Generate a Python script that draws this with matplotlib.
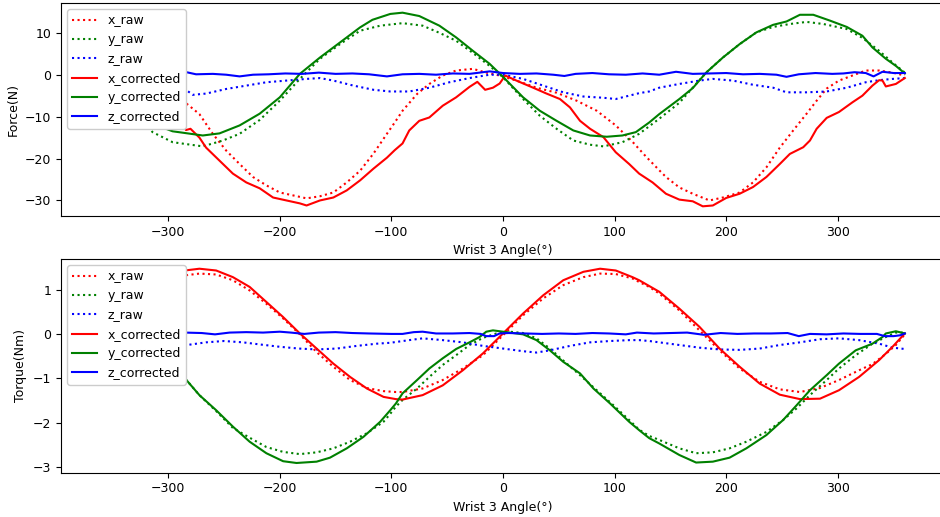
import matplotlib.pyplot as plt
import numpy as np

plt.rcParams['font.size'] = 9

# force (N) vs wrist 3 angle
fxr_a = [-360, -345, -330, -315, -300, -290, -283, -272, -260, -248, -236, -224, -212, -200, -188, -176, -164, -152, -140, -128, -116, -104, -97, -90, -77, -66, -54, -42, -27, -15, -3, 12, 30, 48, 66, 84, 101, 116, 128, 140, 146, 158, 170, 185, 197, 212, 224, 236, 248, 260, 272, 281, 290, 301, 313, 325, 337, 349, 360]
fxr_v = [-0.2, 0.5, 0.3, -1.5, -4.0, -5.8, -7.0, -9.4, -14.1, -18.1, -21.3, -24.4, -26.4, -28.1, -28.8, -29.5, -29.0, -28.1, -25.7, -22.9, -18.8, -14.1, -11.4, -8.6, -4.6, -2.2, -0.2, 1.0, 1.4, 0.5, -0.2, -1.4, -3.1, -4.3, -6.2, -8.6, -12.1, -16.0, -19.5, -22.8, -24.4, -26.9, -28.4, -30.0, -29.3, -28.1, -25.7, -22.1, -17.4, -13.3, -9.3, -6.2, -3.3, -1.4, -0.2, 1.0, 1.0, 0.5, -0.2]

fyr_a = [-360, -345, -330, -314, -296, -269, -251, -236, -218, -200, -182, -164, -146, -128, -110, -90, -72, -57, -42, -27, -12, 0, 18, 33, 48, 63, 78, 90, 107, 122, 140, 158, 182, 197, 212, 227, 242, 257, 272, 287, 308, 322, 337, 349, 360]
fyr_v = [0.5, -3.8, -8.0, -13.7, -16.1, -17.1, -15.7, -14.1, -10.8, -6.2, -1.0, 3.8, 7.3, 10.5, 11.7, 12.3, 11.7, 10.0, 8.1, 5.2, 2.1, -0.6, -5.8, -9.8, -12.9, -15.7, -16.7, -17.1, -16.1, -14.1, -10.5, -6.7, 0.5, 4.1, 7.3, 10.1, 11.4, 12.1, 12.6, 12.1, 10.9, 8.8, 5.7, 2.9, 0.5]

fzr_a = [-360, -340, -320, -300, -283, -278, -266, -248, -230, -212, -194, -176, -164, -152, -134, -116, -101, -84, -66, -48, -30, -12, 0, 18, 36, 54, 72, 90, 101, 113, 122, 131, 140, 158, 176, 188, 206, 224, 242, 254, 272, 290, 308, 325, 337, 349, 360]
fzr_v = [-0.5, -1.5, -2.6, -3.4, -3.8, -4.8, -4.5, -3.4, -2.6, -1.8, -1.4, -1.0, -0.8, -1.4, -2.6, -3.6, -4.0, -4.0, -3.1, -1.8, -0.8, 0.0, 0.0, -1.0, -2.6, -4.2, -5.2, -5.5, -5.8, -5.0, -4.4, -4.0, -3.1, -2.2, -1.4, -1.0, -1.4, -2.4, -3.1, -4.2, -4.2, -4.0, -3.1, -1.8, -1.3, -1.0, -0.8]

fxc_a = [-360, -345, -330, -315, -300, -289, -284, -280, -272, -266, -254, -242, -230, -218, -206, -194, -182, -176, -164, -152, -140, -128, -116, -104, -97, -90, -84, -75, -66, -54, -42, -30, -23, -16, -9, -3, 2, 12, 27, 39, 51, 60, 69, 78, 90, 101, 113, 122, 134, 146, 158, 170, 179, 188, 200, 212, 224, 236, 248, 257, 269, 275, 281, 290, 301, 313, 322, 331, 337, 340, 343, 352, 360]
fxc_v = [-1.0, -2.5, -4.5, -7.0, -9.0, -11.5, -13.2, -12.9, -15.0, -17.4, -20.5, -23.6, -25.7, -27.1, -29.3, -30.0, -30.7, -31.2, -30.0, -29.3, -27.6, -25.2, -22.4, -19.8, -18.0, -16.4, -13.3, -11.0, -10.2, -7.4, -5.4, -2.9, -1.7, -3.6, -3.1, -2.1, -0.2, -1.4, -3.1, -4.5, -5.8, -7.8, -11.0, -12.9, -14.9, -18.5, -21.3, -23.6, -25.7, -28.4, -29.8, -30.2, -31.4, -31.2, -29.4, -28.4, -26.8, -24.4, -21.3, -18.9, -17.3, -15.7, -12.9, -10.3, -8.9, -6.6, -5.0, -2.6, -1.3, -1.4, -2.8, -2.2, -0.8]

fyc_a = [-360, -345, -330, -314, -296, -269, -254, -236, -218, -200, -182, -164, -146, -128, -117, -101, -90, -75, -57, -42, -27, -12, 0, 18, 33, 48, 63, 78, 93, 107, 119, 131, 140, 158, 170, 182, 197, 212, 227, 242, 254, 266, 278, 293, 308, 322, 331, 343, 352, 360]
fyc_v = [0.3, -3.5, -7.2, -11.7, -13.5, -14.5, -14.0, -12.1, -9.3, -5.4, 0.2, 4.1, 7.7, 11.3, 13.1, 14.5, 14.8, 14.0, 11.7, 8.9, 5.7, 2.6, -0.5, -5.4, -8.6, -11.0, -13.3, -14.5, -14.8, -14.5, -13.7, -11.4, -9.4, -5.8, -3.2, 0.5, 4.1, 7.3, 10.1, 11.9, 12.7, 14.3, 14.3, 12.9, 11.4, 9.3, 6.5, 3.8, 2.1, 0.3]

fzc_a = [-360, -340, -320, -300, -287, -275, -260, -248, -236, -224, -210, -195, -180, -165, -150, -135, -120, -104, -90, -75, -60, -45, -30, -12, 0, 15, 30, 45, 55, 65, 80, 95, 110, 125, 140, 155, 170, 185, 200, 215, 230, 245, 254, 265, 280, 295, 305, 315, 325, 332, 340, 350, 360]
fzc_v = [0.3, 0.2, 0.4, 0.3, 0.8, 0.1, 0.2, 0.0, -0.4, 0.0, 0.1, 0.3, 0.2, 0.5, 0.2, 0.3, 0.1, -0.4, 0.1, 0.2, 0.0, 0.3, 0.2, 0.8, 0.4, 0.2, 0.3, 0.0, -0.3, 0.2, 0.4, 0.1, 0.0, 0.3, 0.0, 0.7, 0.2, 0.3, 0.4, 0.1, 0.2, 0.0, -0.5, 0.1, 0.4, 0.2, 0.3, 0.6, 0.4, -0.4, 0.7, 0.4, 0.4]

# torque (Nm)
txr_a = [-360, -345, -330, -315, -300, -285, -272, -257, -242, -227, -212, -197, -182, -167, -152, -137, -122, -107, -96, -90, -72, -54, -36, -18, 0, 18, 36, 54, 72, 87, 101, 116, 122, 131, 140, 158, 176, 194, 212, 230, 248, 266, 284, 301, 319, 331, 343, 352, 360]
txr_v = [-0.01, 0.36, 0.7, 0.98, 1.2, 1.32, 1.36, 1.34, 1.21, 0.98, 0.68, 0.35, -0.01, -0.41, -0.74, -1.04, -1.22, -1.29, -1.31, -1.31, -1.23, -1.04, -0.78, -0.48, -0.03, 0.42, 0.80, 1.10, 1.28, 1.36, 1.35, 1.25, 1.17, 1.06, 0.91, 0.53, 0.08, -0.37, -0.78, -1.08, -1.25, -1.31, -1.22, -1.04, -0.82, -0.68, -0.45, -0.25, -0.01]

tyr_a = [-360, -342, -330, -318, -306, -295, -285, -272, -257, -242, -227, -212, -197, -182, -167, -152, -137, -122, -107, -101, -96, -90, -77, -66, -54, -42, -30, -18, -6, 6, 18, 30, 42, 54, 69, 84, 99, 113, 122, 131, 140, 158, 173, 188, 203, 218, 236, 251, 263, 275, 290, 301, 316, 331, 343, 352, 360]
tyr_v = [0.03, 0.0, -0.1, -0.33, -0.6, -0.85, -1.0, -1.38, -1.74, -2.12, -2.34, -2.55, -2.66, -2.71, -2.67, -2.58, -2.43, -2.24, -1.98, -1.80, -1.64, -1.49, -1.23, -0.97, -0.70, -0.48, -0.25, -0.09, 0.01, 0.05, 0.02, -0.10, -0.33, -0.60, -0.93, -1.27, -1.61, -1.94, -2.16, -2.30, -2.39, -2.58, -2.69, -2.67, -2.58, -2.43, -2.21, -1.94, -1.68, -1.38, -1.04, -0.78, -0.48, -0.22, -0.07, 0.03, 0.03]

tzr_a = [-360, -340, -320, -300, -283, -266, -250, -233, -217, -200, -183, -167, -149, -131, -113, -101, -84, -72, -54, -36, -18, 0, 18, 30, 42, 60, 78, 96, 113, 122, 131, 140, 158, 176, 194, 212, 230, 248, 266, 284, 301, 319, 337, 349, 360]
tzr_v = [-0.33, -0.31, -0.29, -0.27, -0.25, -0.19, -0.16, -0.19, -0.24, -0.29, -0.33, -0.35, -0.33, -0.27, -0.22, -0.20, -0.14, -0.10, -0.14, -0.19, -0.27, -0.33, -0.39, -0.42, -0.37, -0.27, -0.19, -0.16, -0.14, -0.14, -0.16, -0.19, -0.25, -0.31, -0.35, -0.36, -0.33, -0.25, -0.19, -0.12, -0.10, -0.14, -0.22, -0.31, -0.34]

txc_a = [-360, -345, -330, -315, -300, -285, -272, -257, -242, -227, -212, -197, -182, -167, -152, -137, -122, -107, -96, -90, -72, -54, -36, -18, 0, 18, 36, 54, 72, 87, 101, 116, 122, 131, 140, 158, 176, 194, 212, 230, 248, 266, 284, 301, 319, 337, 349, 360]
txc_v = [0.0, 0.38, 0.73, 1.04, 1.27, 1.43, 1.47, 1.43, 1.28, 1.06, 0.72, 0.38, 0.01, -0.33, -0.67, -0.97, -1.23, -1.42, -1.47, -1.48, -1.38, -1.16, -0.82, -0.44, 0.01, 0.46, 0.87, 1.21, 1.40, 1.47, 1.43, 1.28, 1.21, 1.08, 0.95, 0.57, 0.16, -0.33, -0.74, -1.12, -1.37, -1.47, -1.46, -1.27, -0.97, -0.59, -0.29, 0.01]

tyc_a = [-360, -342, -330, -318, -306, -295, -285, -272, -257, -242, -227, -212, -197, -185, -167, -155, -140, -125, -110, -101, -96, -90, -77, -66, -54, -42, -30, -21, -15, -9, 0, 18, 30, 42, 54, 69, 81, 96, 113, 122, 131, 140, 158, 173, 188, 203, 218, 236, 251, 263, 275, 290, 301, 316, 331, 340, 343, 352, 360]
tyc_v = [0.05, -0.01, -0.14, -0.37, -0.63, -0.85, -1.0, -1.38, -1.72, -2.09, -2.43, -2.69, -2.87, -2.91, -2.88, -2.79, -2.58, -2.32, -1.98, -1.72, -1.57, -1.34, -1.04, -0.78, -0.55, -0.34, -0.19, -0.07, 0.05, 0.08, 0.05, -0.01, -0.14, -0.37, -0.63, -0.89, -1.23, -1.57, -1.98, -2.17, -2.35, -2.47, -2.73, -2.90, -2.88, -2.79, -2.58, -2.28, -1.94, -1.61, -1.27, -0.93, -0.67, -0.37, -0.22, -0.07, 0.01, 0.06, 0.01]

tzc_a = [-360, -340, -320, -300, -285, -270, -258, -245, -230, -215, -200, -190, -178, -165, -150, -135, -120, -100, -90, -80, -72, -60, -45, -30, -20, -15, -8, -3, 5, 20, 35, 50, 65, 80, 95, 110, 120, 135, 150, 165, 180, 195, 210, 225, 240, 255, 265, 275, 290, 305, 320, 335, 342, 350, 356, 360]
tzc_v = [0.03, 0.04, 0.02, 0.03, 0.03, 0.02, -0.01, 0.03, 0.04, 0.03, 0.05, 0.03, 0.0, 0.03, 0.04, 0.02, 0.01, 0.0, 0.0, 0.04, 0.05, 0.01, 0.01, 0.02, 0.0, -0.05, -0.05, 0.01, 0.02, 0.01, 0.0, 0.01, 0.0, 0.02, 0.01, -0.01, 0.03, 0.01, 0.02, 0.03, -0.02, 0.02, 0.0, 0.01, 0.01, 0.02, -0.05, 0.0, -0.01, 0.01, 0.0, 0.0, -0.05, -0.05, -0.03, 0.01]

fig = plt.figure(figsize=(9.4, 5.17), dpi=100)
# axes run slightly past the right edge, like the cropped original
ax1 = fig.add_axes([61/940, 1-216/517, 884/940, 213/517])
ax2 = fig.add_axes([61/940, 1-472.7/517, 884/940, 213.7/517])

ax1.plot(fxr_a, fxr_v, 'r:', label='x_raw')
ax1.plot(fyr_a, fyr_v, 'g:', label='y_raw')
ax1.plot(fzr_a, fzr_v, 'b:', label='z_raw')
ax1.plot(fxc_a, fxc_v, 'r-', label='x_corrected')
ax1.plot(fyc_a, fyc_v, 'g-', label='y_corrected')
ax1.plot(fzc_a, fzc_v, 'b-', label='z_corrected')
ax1.set_xlabel('Wrist 3 Angle(°)')
ax1.set_ylabel('Force(N)')
ax1.legend(loc='upper left', framealpha=1)

ax2.plot(txr_a, txr_v, 'r:', label='x_raw')
ax2.plot(tyr_a, tyr_v, 'g:', label='y_raw')
ax2.plot(tzr_a, tzr_v, 'b:', label='z_raw')
ax2.plot(txc_a, txc_v, 'r-', label='x_corrected')
ax2.plot(tyc_a, tyc_v, 'g-', label='y_corrected')
ax2.plot(tzc_a, tzc_v, 'b-', label='z_corrected')
ax2.set_xlabel('Wrist 3 Angle(°)')
ax2.set_ylabel('Torque(Nm)')
ax2.legend(loc='upper left', framealpha=1)

fig.savefig('out.png', dpi=100)
